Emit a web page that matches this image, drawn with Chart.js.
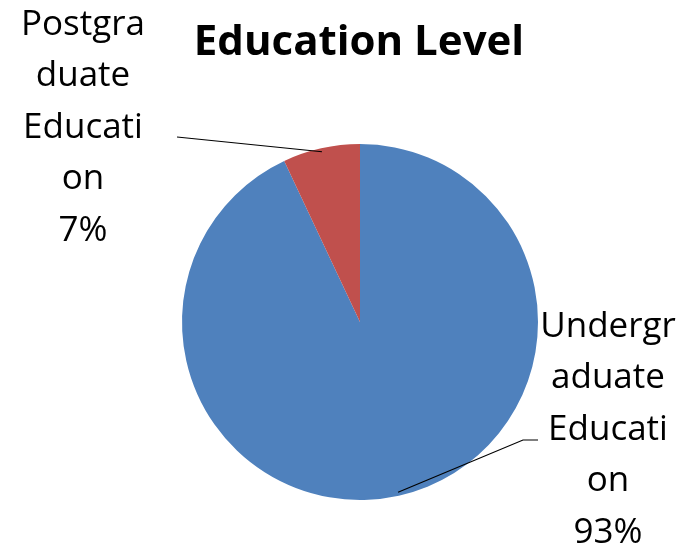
<!DOCTYPE html>
<html><head><meta charset="utf-8">
<script src="https://cdn.jsdelivr.net/npm/chart.js@4"></script>
<style>html,body{margin:0;padding:0;background:#fff;}#wrap{width:688px;height:549px;}</style>
</head><body><div id="wrap"><canvas id="c" width="688" height="549"></canvas></div>
<script>
const title = "Education Level";
const categories = ["Undergraduate Education", "Postgraduate Education"];
const values = [93, 7];
const labelLines = [["Undergr","aduate","Educati","on","93%"],["Postgra","duate","Educati","on","7%"]];
const colors = ["#4F81BD", "#C0504D"];

const labelPlugin = {
  id: 'labels',
  afterDraw(chart) {
    const ctx = chart.ctx;
    ctx.save();
    ctx.fillStyle = '#000';
    ctx.textAlign = 'center';
    ctx.textBaseline = 'alphabetic';
    ctx.font = 'bold 42px "Open Sans"';
    ctx.fillText(title, 359, 55);
    const meta = chart.getDatasetMeta(0);
    const boxes = [{x:608, y:337, lead:[[538,440],[523,440]]},{x:83, y:35, lead:[[177,137]]}];
    ctx.font = '35px "Open Sans"';
    labelLines.forEach((lines, i) => {
      const b = boxes[i];
      lines.forEach((t, k) => ctx.fillText(t, b.x, b.y + k * 51.4));
      const arc = meta.data[i];
      const a = (arc.startAngle + arc.endAngle) / 2;
      const px = arc.x + Math.cos(a) * arc.outerRadius * 0.98;
      const py = arc.y + Math.sin(a) * arc.outerRadius * 0.98;
      ctx.strokeStyle = '#000';
      ctx.lineWidth = 1.2;
      ctx.beginPath();
      ctx.moveTo(b.lead[0][0], b.lead[0][1]);
      for (let j = 1; j < b.lead.length; j++) ctx.lineTo(b.lead[j][0], b.lead[j][1]);
      ctx.lineTo(px, py);
      ctx.stroke();
    });
    ctx.restore();
  }
};

new Chart(document.getElementById('c'), {
  type: 'pie',
  data: { labels: categories, datasets: [{ data: values, backgroundColor: colors, borderWidth: 0 }] },
  options: {
    responsive: false, animation: false,
    layout: { padding: { top: 144, bottom: 49, left: 182, right: 150 } },
    plugins: { legend: { display: false }, tooltip: { enabled: false }, title: { display: false } }
  },
  plugins: [labelPlugin]
});
</script></body></html>
